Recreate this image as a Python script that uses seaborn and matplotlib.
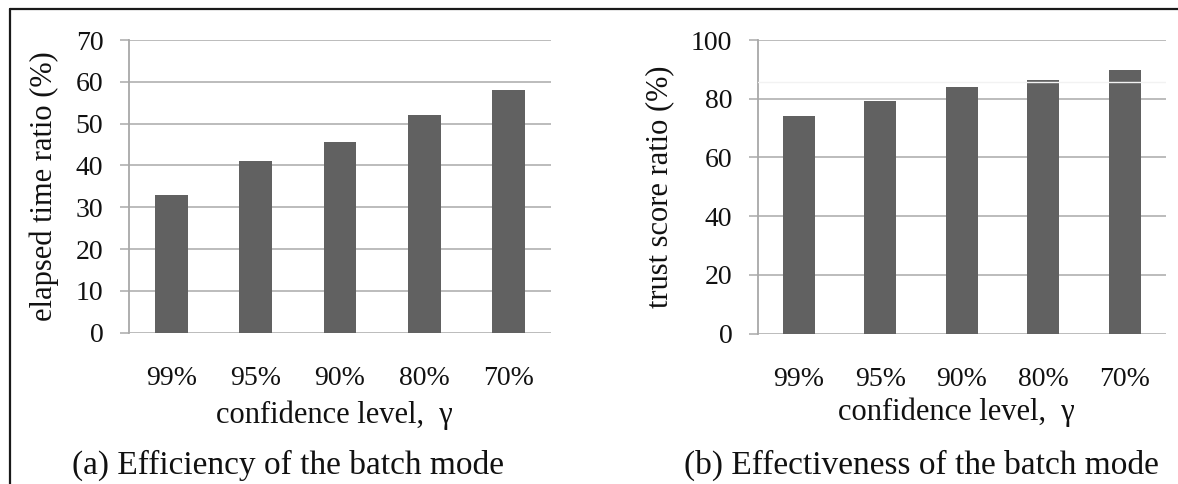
import matplotlib
matplotlib.use("Agg")
import matplotlib.pyplot as plt
import seaborn as sns
import pandas as pd
from matplotlib.lines import Line2D

categories = ["99%", "95%", "90%", "80%", "70%"]
elapsed_time_ratio = [33, 41, 45.6, 52, 58]
trust_score_ratio = [74.2, 79.1, 84.0, 86.3, 89.7]
faint_line_b = 85.7  # faint light rule visible across the tallest bars in panel (b)

sns.set_theme(style="white")
plt.rcParams["font.family"] = ["Liberation Serif", "DejaVu Serif"]

W, H = 1178, 484
fig = plt.figure(figsize=(W / 100, H / 100), dpi=100)
fig.patch.set_facecolor("white")

bar_color = "#616161"
grid_color = "#b0b0b0"
text_color = "#111111"


def px_axes(x0, x1, y0, y1):
    return fig.add_axes([x0 / W, 1 - y1 / H, (x1 - x0) / W, (y1 - y0) / H])


def style(ax, values, ymax, step, ylabel, ylab_x, xlab_y):
    df = pd.DataFrame({"cat": categories, "val": values})
    sns.barplot(data=df, x="cat", y="val", color=bar_color, width=0.39,
                saturation=1, ax=ax, zorder=3, edgecolor="none")
    ax.set_ylim(0, ymax)
    ax.set_yticks(range(0, ymax + 1, step))
    ax.set_xlim(-0.5, 4.5)
    ax.yaxis.grid(True, color=grid_color, linewidth=1.2, zorder=0)
    ax.set_axisbelow(True)
    for s in ["top", "right", "bottom"]:
        ax.spines[s].set_visible(False)
    ax.spines["left"].set_color("#a8a8a8")
    ax.spines["left"].set_linewidth(1.3)
    ax.tick_params(axis="y", length=6.5, width=1.2, color=grid_color, pad=12,
                   labelsize=20, labelcolor=text_color, left=True)
    ax.tick_params(axis="x", length=0, pad=24, labelsize=20, labelcolor=text_color)
    ax.set_xlabel("confidence level,  γ", fontsize=22, color=text_color)
    ax.xaxis.set_label_coords(0.486, xlab_y)
    ax.xaxis.label.set_va("center")
    ax.set_ylabel(ylabel, fontsize=22, color=text_color)
    ax.yaxis.set_label_coords(ylab_x, 0.5)
    ax.yaxis.label.set_va("center")
    ax.set_facecolor("white")


ax1 = px_axes(129, 551, 40, 332.7)
style(ax1, elapsed_time_ratio, 70, 10, "elapsed time ratio (%)", -0.201, -0.283)

ax2 = px_axes(758, 1165.7, 40, 333.7)
style(ax2, trust_score_ratio, 100, 20, "trust score ratio (%)", -0.240, -0.268)
ax2.axhline(faint_line_b, color="#f2f2f2", linewidth=1.0, zorder=4)

fig.text(288 / W, 1 - 465 / H, "(a) Efficiency of the batch mode",
         ha="center", va="center", fontsize=24, color=text_color)
fig.text(921 / W, 1 - 465 / H, "(b) Effectiveness of the batch mode",
         ha="center", va="center", fontsize=24, color=text_color)

# outer frame (left and top edges)
fig.add_artist(Line2D([10 / W, 10 / W], [0, 1 - 8.5 / H], transform=fig.transFigure,
                      color="#1a1a1a", linewidth=1.6))
fig.add_artist(Line2D([10 / W, 1], [1 - 8.5 / H, 1 - 8.5 / H], transform=fig.transFigure,
                      color="#1a1a1a", linewidth=1.6))

fig.savefig("out.png", dpi=100, facecolor="white")
